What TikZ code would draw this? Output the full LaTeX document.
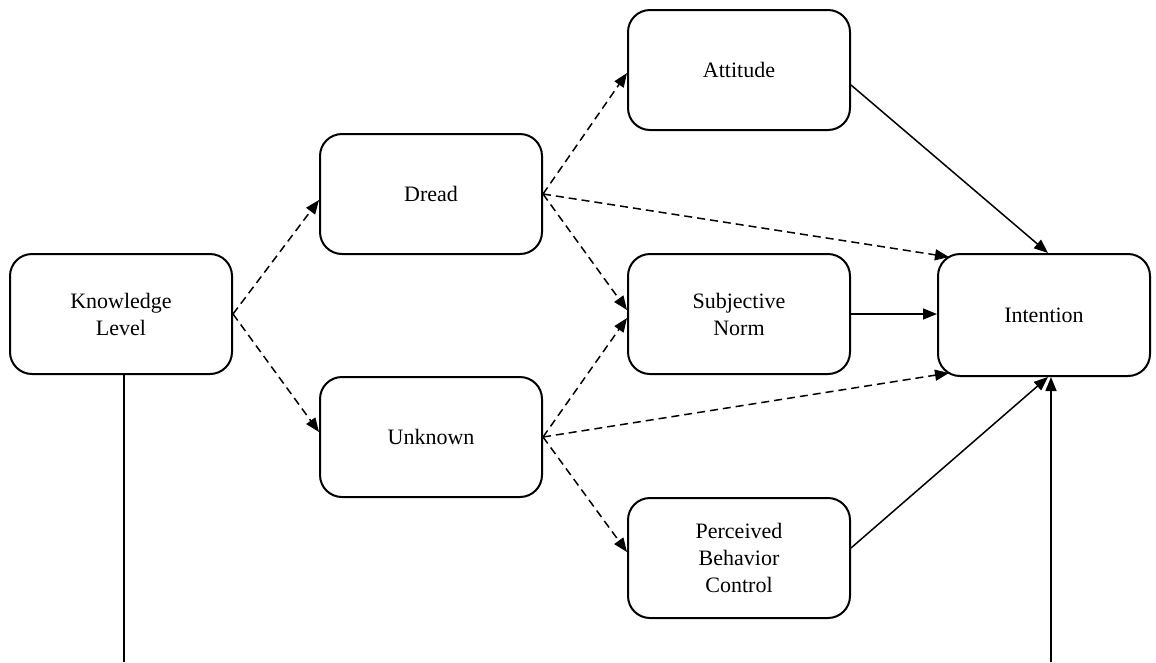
\documentclass[tikz,border=0pt]{standalone}
\usepackage{fontspec}
\setmainfont{Liberation Serif}
\usetikzlibrary{arrows.meta,calc}
\begin{document}
\begin{tikzpicture}[x=1pt,y=-1pt,
  box/.style={draw,line width=2pt,rounded corners=22pt,minimum width=222pt,minimum height=120pt,align=center,inner sep=0pt,font=\fontsize{22}{27}\selectfont},
  conn/.style={line width=1.5pt,-{Triangle[length=14pt,width=11pt]}},
  dconn/.style={conn,dash pattern=on 8pt off 5pt},
  plain/.style={line width=1.5pt}]
\useasboundingbox (0,0) rectangle (1156,662);
\node[box] (kl) at (121,314) {Knowledge\\Level};
\node[box] (dread) at (431,194) {Dread};
\node[box] (unk) at (431,437) {Unknown};
\node[box] (att) at (739,70) {Attitude};
\node[box] (sn) at (739,314) {Subjective\\Norm};
\node[box] (pbc) at (739,558) {Perceived\\Behavior\\Control};
\node[box,minimum width=212pt,minimum height=122pt] (int) at (1044,315) {Intention};
\coordinate (b1) at (124,662);
\coordinate (b2) at (1051,662);
% dashed
\draw[dconn] (kl.east) -- ([yshift=-6pt]dread.west);
\draw[dconn] (kl.east) -- ([yshift=5pt]unk.west);
\draw[dconn] (dread.east) -- ([yshift=-3pt]att.west);
\draw[dconn] (dread.east) -- ([yshift=4pt]sn.west);
\draw[dconn] (dread.east) -- ([xshift=12pt,yshift=-4pt]int.north west);
\draw[dconn] (unk.east) -- ([yshift=-4pt]sn.west);
\draw[dconn] (unk.east) -- ([xshift=12pt,yshift=4pt]int.south west);
\draw[dconn] (unk.east) -- ([yshift=6pt]pbc.west);
% solid
\draw[conn] ([yshift=-15pt]att.east) -- ([xshift=4pt]int.north);
\draw[conn] (sn.east) -- (sn.east -| int.west);
\draw[conn] ([yshift=10pt]pbc.east) -- ([xshift=4pt]int.south);
\draw[conn] (b2) -- (b2 |- int.south);
\draw[plain] (b1 |- kl.south) -- (b1);
\end{tikzpicture}
\end{document}
